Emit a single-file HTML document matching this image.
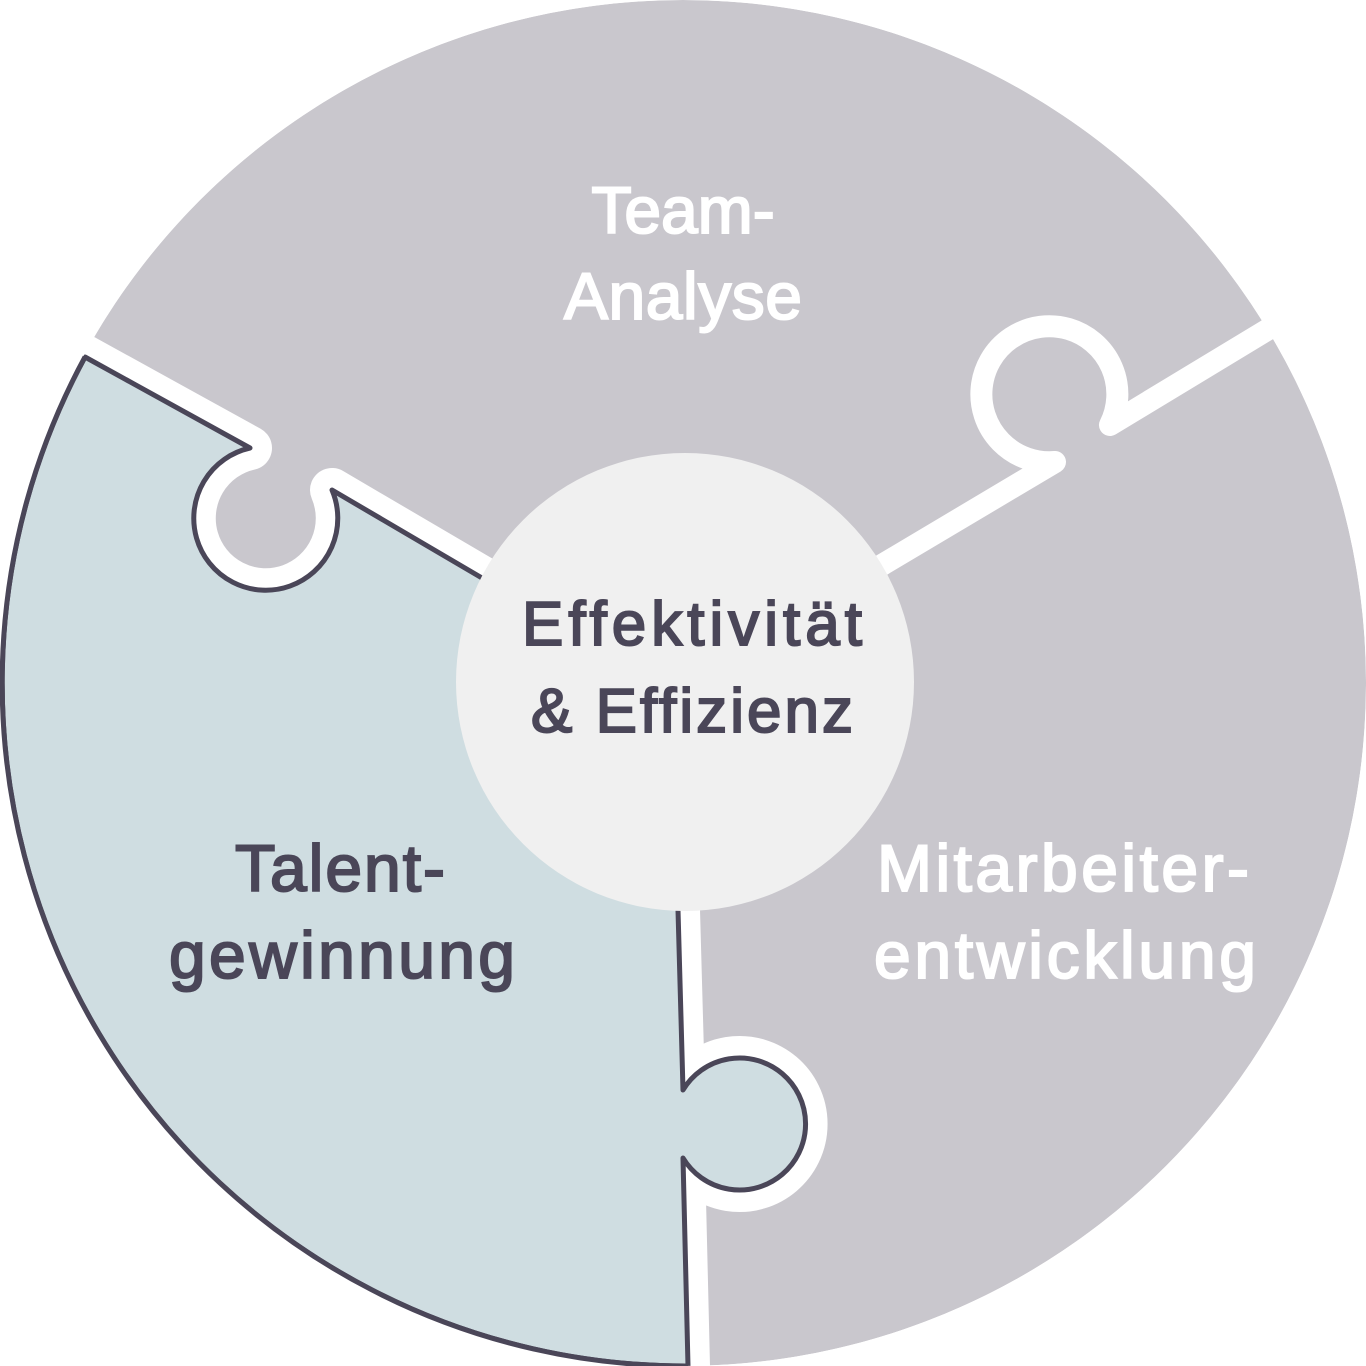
<!DOCTYPE html>
<html>
<head>
<meta charset="utf-8">
<style>
html,body{margin:0;padding:0;background:#fff;}
svg{display:block;}
text{font-family:"Liberation Sans",sans-serif;text-anchor:middle;}
</style>
</head>
<body>
<svg width="1366" height="1366" viewBox="0 0 1366 1366" xmlns="http://www.w3.org/2000/svg">
  <circle cx="683" cy="683" r="683" fill="#c9c7cd"/>
  <!-- right seam -->
  <path d="M1300,310 L1110,425 A68,68 0 1 0 1055,462 L860,578" fill="none" stroke="#fff" stroke-width="22" stroke-linejoin="round"/>
  <!-- teal piece white gap -->
  <path d="M85,357 L250,448 A72,72 0 1 0 332,490 L482,578 L683,683 L678,910 L683,1090 A66,66 0 1 1 683,1158 L688,1366 A683,683 0 0 1 85,357 Z" fill="#fff" stroke="#fff" stroke-width="44" stroke-linejoin="round"/>
  <path d="M85,357 L250,448 A72,72 0 1 0 332,490 L482,578 L683,683 L678,910 L683,1090 A66,66 0 1 1 683,1158 L688,1366 A683,683 0 0 1 85,357 Z" fill="#cfdde1" stroke="#4a4658" stroke-width="5" stroke-linejoin="round"/>
  <path d="M0,0 H1366 V1366 H0 Z M683,0 A683,683 0 1 0 683.01,0 Z" fill="#fff" fill-rule="evenodd"/>
  <path d="M688,1366 A683,683 0 0 1 85,357" fill="none" stroke="#4a4658" stroke-width="5"/>
  <circle cx="685" cy="682" r="229" fill="#f0f0f0"/>
  <g font-size="66" fill="#fff" stroke="#fff" stroke-width="2">
    <text x="683" y="233">Team-</text>
    <text x="683" y="319" textLength="238">Analyse</text>
    <text x="1063" y="891" textLength="372">Mitarbeiter-</text>
    <text x="1065" y="978" textLength="382">entwicklung</text>
  </g>
  <g font-size="62" fill="#4a4658" stroke="#4a4658" stroke-width="2">
    <text x="692" y="645" textLength="340">Effektivität</text>
    <text x="692" y="732" textLength="322">&amp; Effizienz</text>
  </g>
  <g font-size="66" fill="#4a4658" stroke="#4a4658" stroke-width="2">
    <text x="340" y="891" textLength="210">Talent-</text>
    <text x="342" y="978" textLength="346">gewinnung</text>
  </g>
</svg>
</body>
</html>
